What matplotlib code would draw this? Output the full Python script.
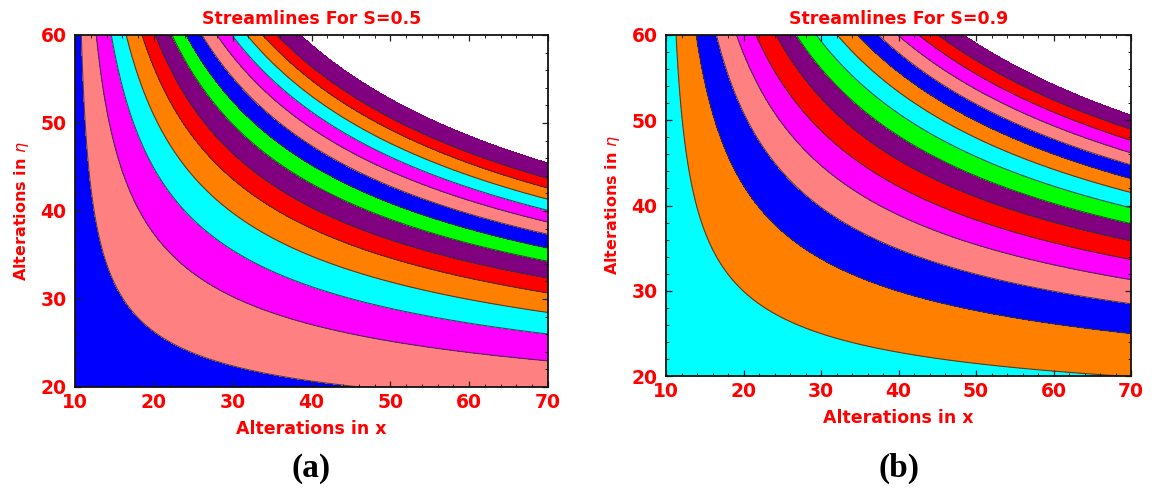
import numpy as np
import matplotlib
matplotlib.use("Agg")
import matplotlib.pyplot as plt
from matplotlib.ticker import MultipleLocator

# Stream-function parameters for each case:  psi = (x - x0) * ((eta - eta0) / (60 - eta0)) ** power
S_values = [0.5, 0.9]
x0_values = [10.0, 10.0]
eta0_values = [13.0, 13.0]
power_values = [2.0, 2.0]

# Positions (x at eta = 60) where successive streamlines meet the top edge
top_crossings_a = [10.8, 12.7, 14.6, 16.5, 18.5, 20.2, 22.3, 24.1, 26.1, 28.0,
                   29.9, 31.8, 33.8, 35.6, 38.6]
top_crossings_b = [11.3, 13.9, 16.5, 19.1, 21.6, 24.2, 26.8, 29.4, 32.1, 34.7,
                   37.4, 39.9, 42.6, 45.1, 48.4]

# Band colours from the lowest stream-function value upward
blue, pink, magenta, cyan = "#0000FF", "#FF8080", "#FF00FF", "#00FFFF"
orange, red, purple, green = "#FF8000", "#FF0000", "#800080", "#00FF00"
colors_a = [blue, pink, magenta, cyan, orange, red, purple, green,
            blue, pink, magenta, cyan, orange, red, purple]
colors_b = [cyan, orange, blue, pink, magenta, red, purple, green,
            cyan, orange, blue, pink, magenta, red, purple]

panel_tags = ["(a)", "(b)"]
x_range = (10, 70)
eta_range = (20, 60)

W, H = 1157, 495
fig = plt.figure(figsize=(W / 100, H / 100), dpi=100)

# axes boxes in pixels: left, right, top, bottom
boxes = [(75, 548, 35, 387), (666, 1131, 35, 376)]

txt_red = "#FF0000"
sans = "DejaVu Sans"

x = np.linspace(x_range[0], x_range[1], 700)
eta = np.linspace(eta_range[0], eta_range[1], 500)
X, E = np.meshgrid(x, eta)

for i, (crossings, cols) in enumerate([(top_crossings_a, colors_a),
                                       (top_crossings_b, colors_b)]):
    l, r, t, b = boxes[i]
    ax = fig.add_axes([l / W, 1 - b / H, (r - l) / W, (b - t) / H])
    x0, eta0, pw = x0_values[i], eta0_values[i], power_values[i]
    psi = (X - x0) * ((E - eta0) / (60.0 - eta0)) ** pw
    levels = [-1.0] + [c - x0 for c in crossings]
    ax.contourf(X, E, psi, levels=levels, colors=cols)
    ax.contour(X, E, psi, levels=levels[1:-1], colors="#333333",
               linewidths=0.8, alpha=0.85)

    ax.set_xlim(*x_range)
    ax.set_ylim(*eta_range)
    ax.xaxis.set_major_locator(MultipleLocator(10))
    ax.yaxis.set_major_locator(MultipleLocator(10))
    ax.xaxis.set_minor_locator(MultipleLocator(2))
    ax.yaxis.set_minor_locator(MultipleLocator(2))
    ax.tick_params(which="both", direction="in", top=True, right=True,
                   color="#222222")
    ax.tick_params(which="major", length=4, width=0.9)
    ax.tick_params(which="minor", length=2.2, width=0.7)
    ax.tick_params(axis="x", pad=4)
    ax.tick_params(axis="y", pad=6)
    for lab in ax.get_xticklabels() + ax.get_yticklabels():
        lab.set_fontfamily(sans)
        lab.set_fontweight("bold")
        lab.set_fontsize(13.5)
        lab.set_color(txt_red)
    for sp in ax.spines.values():
        sp.set_color("#111111")
        sp.set_linewidth(1.3)

    ax.set_title(f"Streamlines For S={S_values[i]}", fontsize=12.5,
                 fontweight="bold", color=txt_red, family=sans, pad=8)
    ax.set_xlabel("Alterations in x", fontsize=12.5, fontweight="bold",
                  color=txt_red, family=sans, labelpad=6)
    ax.set_ylabel(r"Alterations in $\eta$", fontsize=11.5, fontweight="bold",
                  color=txt_red, family=sans, labelpad=7)

    fig.text((l + r) / 2 / W, 1 - 468 / H, panel_tags[i],
             family="Liberation Serif", fontweight="bold", fontsize=24,
             ha="center", va="center", color="black")

fig.savefig("out.png", dpi=100)
